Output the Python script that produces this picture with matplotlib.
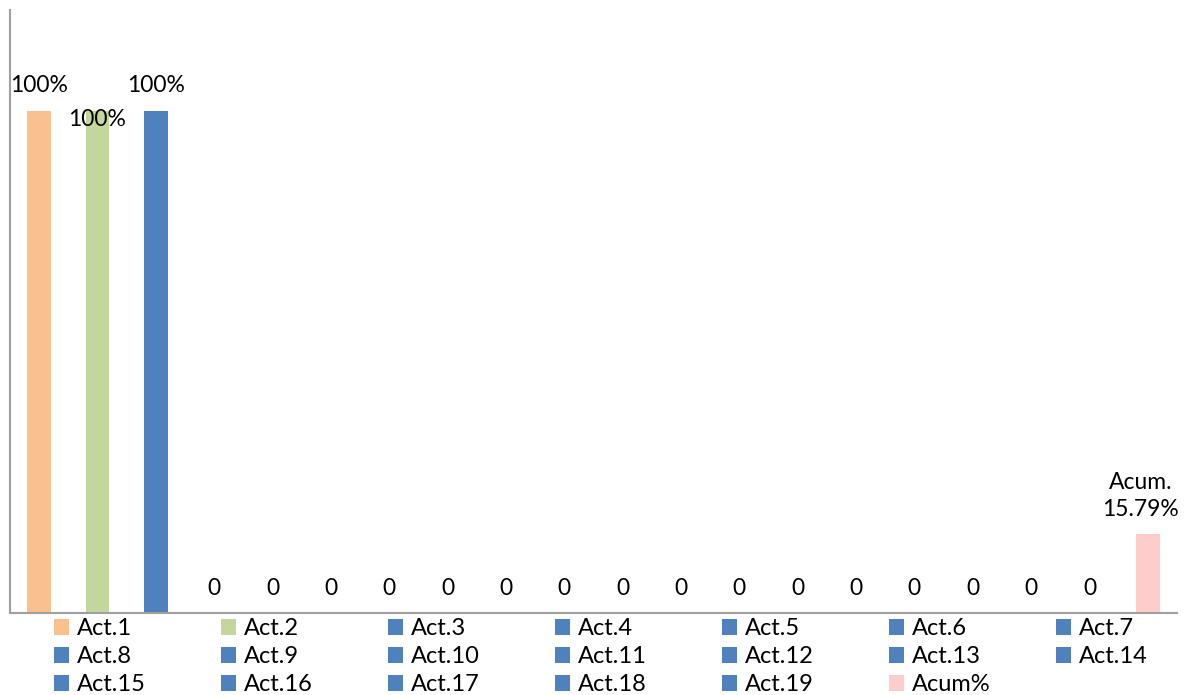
import matplotlib
matplotlib.use("Agg")
import matplotlib.pyplot as plt
from matplotlib.patches import Patch

categories = [f"Act.{i}" for i in range(1, 20)] + ["Acum%"]
values = [1.0, 1.0, 1.0] + [0.0] * 16 + [0.1579]
labels = ["100%", "100%", "100%"] + ["0"] * 16 + ["Acum.\n15.79%"]
colors = ["#FAC090", "#C3D69B"] + ["#4F81BD"] * 17 + ["#FFCCCC"]

plt.rcParams['font.family'] = ['Lato', 'DejaVu Sans']

fig = plt.figure(figsize=(11.91, 6.95), dpi=100)
W, H = 1191, 695
ax = fig.add_axes([10 / W, (H - 613) / H, (1177 - 10) / W, (613 - 10) / H])

x = list(range(len(categories)))
bars = ax.bar(x, values, width=0.41, color=colors)

for i, (v, lab) in enumerate(zip(values, labels)):
    dy = -11 if i == 1 else 13
    dx = -5 if i == len(values) - 1 else 0
    ax.annotate(lab, (i, v), xytext=(dx, dy), textcoords="offset points",
                ha="center", va="baseline", fontsize=16.5, color="black",
                linespacing=1.35)

ax.set_xlim(-0.5, len(categories) - 0.5)
ax.set_ylim(0, 1.2)
ax.set_xticks([])
ax.set_yticks([])
for s in ["top", "right"]:
    ax.spines[s].set_visible(False)
for s in ["left", "bottom"]:
    ax.spines[s].set_color("#A0A0A0")
    ax.spines[s].set_linewidth(1.5)

ncol = 7
nrow = 3
for j in range(ncol):
    idx = [r * ncol + j for r in range(nrow) if r * ncol + j < len(categories)]
    handles = [Patch(facecolor=colors[k], edgecolor="none") for k in idx]
    leg = fig.legend(handles, [categories[k] for k in idx], ncol=1,
                     loc="upper left",
                     bbox_to_anchor=((54 + 167 * j) / W, 1 - 618 / H),
                     frameon=False, fontsize=17, handlelength=0.65,
                     handleheight=0.65, handletextpad=0.3, labelspacing=0.3,
                     borderpad=0, borderaxespad=0)

fig.savefig("out.png", dpi=100)
